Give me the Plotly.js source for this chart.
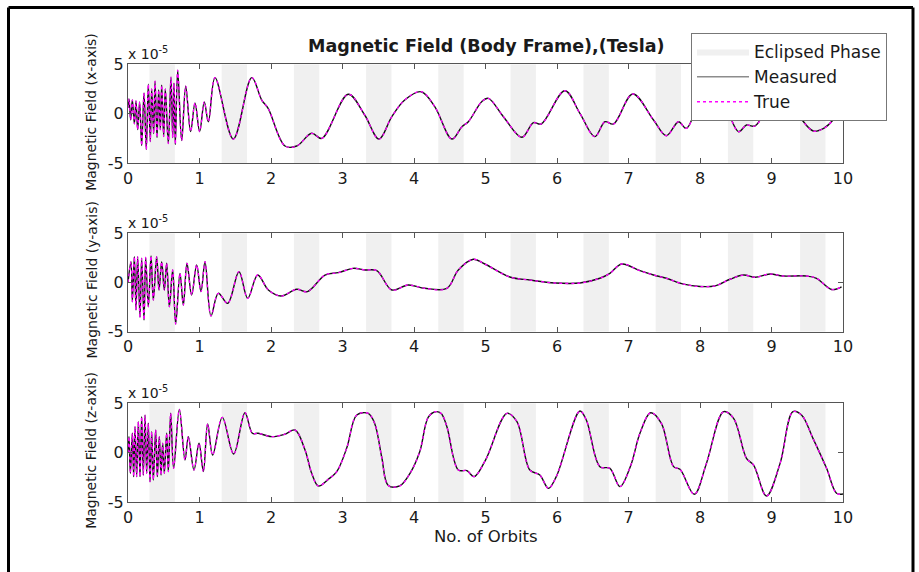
<!DOCTYPE html>
<html>
<head>
<meta charset="utf-8">
<script src="https://cdn.plot.ly/plotly-3.0.1.min.js"></script>
<style>html,body{margin:0;padding:0;background:#fff;}#chart{width:919px;height:572px;}</style>
</head>
<body>
<div id="chart"></div>
<script>
// ---- data (values in units of 1e-5 Tesla) ----
const bxOrbit = [0.000,0.014,0.037,0.061,0.089,0.112,0.135,0.163,0.191,0.224,0.256,0.284,0.312,0.331,0.359,0.378,0.406,0.429,0.452,0.471,0.499,0.522,0.564,0.601,0.625,0.643,0.662,0.695,0.751,0.807,0.876,0.937,1.002,1.067,1.124,1.217,1.473,1.730,1.87,1.96,2.196,2.36,2.569,2.71,3.08,3.31,3.51,3.69,3.87,4.10,4.29,4.53,4.67,4.76,4.95,5.04,5.25,5.51,5.67,5.78,6.11,6.32,6.53,6.67,6.79,7.06,7.35,7.53,7.70,7.81,8.10,8.37,8.54,8.65,8.77,9.13,9.40,9.585,9.73,9.86,10.0];
const bxValue = [0.6,1.5,-0.6,1.4,-1.0,1.3,-1.6,1.2,-3.2,2.1,-3.6,3.0,-2.8,2.5,-2.0,3.3,-2.4,2.4,-1.6,2.9,-2.3,2.5,-3.0,3.7,-2.4,3.1,-3.1,4.4,-2.7,2.8,-1.8,1.1,-1.8,1.2,-0.8,3.65,-2.55,3.65,1.39,0.55,-3.25,-3.25,-1.97,-2.48,1.97,-0.12,-2.55,-0.29,1.39,2.23,0.72,-2.55,-1.30,-0.8,1.25,1.56,-0.29,-2.37,-0.90,-1.03,2.33,0.05,-2.31,-0.80,-1.03,2.0,-0.63,-2.21,-0.80,-1.47,2.6,0.39,-1.81,-1.13,-1.23,2.5,-0.36,-1.74,-1.47,-0.63,1.1];

const byOrbit = [0.000,0.042,0.061,0.089,0.112,0.135,0.168,0.191,0.224,0.247,0.284,0.322,0.354,0.401,0.434,0.471,0.508,0.541,0.578,0.625,0.667,0.727,0.774,0.825,0.890,0.960,1.021,1.077,1.161,1.263,1.394,1.552,1.674,1.814,1.963,2.14,2.36,2.51,2.755,2.94,3.15,3.31,3.48,3.69,3.92,4.15,4.46,4.62,4.83,4.99,5.34,5.62,5.97,6.32,6.60,6.74,6.905,7.16,7.35,7.53,7.77,8.0,8.21,8.42,8.61,8.77,8.98,9.16,9.49,9.63,9.84,9.98];
const byValue = [0.0,2.11,-1.95,2.62,-2.79,2.62,-3.54,2.46,-3.81,2.55,-2.46,2.69,-1.78,2.62,-0.76,2.11,-0.76,1.95,-2.46,1.27,-4.22,0.93,-2.29,1.95,-1.27,1.78,-0.93,2.11,-3.40,-1.10,-2.12,1.10,-1.61,0.76,-0.76,-1.37,-0.69,-0.93,0.76,1.0,1.44,1.27,1.2,-0.76,-0.25,-0.59,-0.59,1.27,2.36,1.88,0.56,0.25,-0.05,-0.05,0.43,0.93,1.88,1.2,0.76,0.43,-0.17,-0.41,-0.34,0.33,0.76,0.53,0.86,0.66,0.66,0.43,-0.71,-0.44];

const bzOrbit = [0.000,0.014,0.033,0.061,0.079,0.098,0.121,0.145,0.168,0.191,0.214,0.238,0.261,0.284,0.308,0.331,0.354,0.387,0.410,0.438,0.462,0.485,0.508,0.541,0.564,0.597,0.638,0.718,0.797,0.844,0.923,0.993,1.054,1.114,1.184,1.319,1.478,1.636,1.74,1.82,2.01,2.19,2.336,2.476,2.569,2.662,2.80,2.92,3.06,3.20,3.36,3.45,3.55,3.64,3.80,3.95,4.08,4.20,4.30,4.38,4.46,4.62,4.74,4.84,5.00,5.30,5.44,5.62,5.76,5.88,5.99,6.32,6.41,6.60,6.74,6.88,7.03,7.16,7.31,7.46,7.63,7.72,7.92,8.09,8.33,8.47,8.65,8.75,8.93,9.12,9.30,9.42,9.58,9.77,9.91,10.0];
const bzValue = [0.0,1.63,-2.07,1.97,-2.41,2.64,-2.41,3.14,-2.41,3.65,-2.24,3.81,-2.07,2.98,-2.92,2.13,-2.75,2.30,-2.41,1.63,-2.24,0.96,-2.07,1.97,-1.9,3.99,-1.57,4.39,-0.73,1.63,-1.74,0.96,-1.9,2.91,-0.22,3.58,-0.12,4.05,1.97,1.97,1.63,1.87,2.30,0.29,-2.07,-3.35,-2.68,-1.9,0.5,3.82,3.98,2.97,-0.5,-3.3,-3.35,-2.0,0.1,3.6,4.15,3.98,2.64,-1.74,-1.80,-2.41,-0.73,3.98,3.14,-1.74,-2.24,-3.59,-2.41,4.22,3.31,-1.40,-1.57,-3.42,-1.30,1.97,4.05,2.97,-1.40,-1.67,-4.19,-1.07,4.15,3.48,-0.56,-1.24,-4.36,-1.07,4.15,3.82,1.46,-1.57,-4.09,-4.16];

const eclipseStart = [0.30,1.31,2.32,3.33,4.34,5.35,6.37,7.38,8.39,9.40];
const eclipseWidth = 0.355;
const yLimits = [-5, 5];
const xTicks = [0,1,2,3,4,5,6,7,8,9,10];
const yTicks = [-5,0,5];
const yTickText = ['-5','0','5'];
const panelTitles = ['Magnetic Field (x-axis)','Magnetic Field (y-axis)','Magnetic Field (z-axis)'];

// ---- layout helpers ----
const W = 919, H = 572;
const px = v => v / W;
const py = v => 1 - v / H;
const FONT = '"DejaVu Sans", Verdana, sans-serif';
const TXT = '#1a1a1a';
const panels = [
  {top: 64.3, bottom: 163.3, ox: bxOrbit, oy: bxValue},
  {top: 233.3, bottom: 331.7, ox: byOrbit, oy: byValue},
  {top: 403.3, bottom: 502.3, ox: bzOrbit, oy: bzValue}
];

function bandXY() {
  const x = [], y = [];
  eclipseStart.forEach(s => {
    x.push(s, s + eclipseWidth, s + eclipseWidth, s, s, null);
    y.push(yLimits[0], yLimits[0], yLimits[1], yLimits[1], yLimits[0], null);
  });
  return {x, y};
}

const data = [];
const layout = {
  width: W, height: H,
  margin: {l: 0, r: 0, t: 0, b: 0},
  paper_bgcolor: '#fff', plot_bgcolor: '#fff',
  font: {family: FONT, size: 16, color: TXT},
  showlegend: true,
  legend: {
    x: px(691), y: py(33), xanchor: 'left', yanchor: 'top',
    bgcolor: '#fff', bordercolor: '#777', borderwidth: 1,
    font: {family: FONT, size: 17, color: TXT},
    tracegroupgap: 0, itemwidth: 52
  },
  annotations: [],
  shapes: []
};

panels.forEach((p, i) => {
  const sfx = i === 0 ? '' : String(i + 1);
  const xa = 'x' + sfx, ya = 'y' + sfx;
  const b = bandXY();
  data.push({
    type: 'scatter', mode: 'lines', x: b.x, y: b.y, xaxis: xa, yaxis: ya,
    fill: 'toself', fillcolor: '#f0f0f0', line: {width: 0, color: '#f0f0f0'},
    name: 'Eclipsed Phase', showlegend: i === 0, legendrank: 1, hoverinfo: 'skip'
  });
  data.push({
    type: 'scatter', mode: 'lines', x: p.ox, y: p.oy, xaxis: xa, yaxis: ya,
    line: {color: '#111', width: 1.4, shape: 'spline', smoothing: 1},
    name: 'Measured', showlegend: false
  });
  data.push({
    type: 'scatter', mode: 'lines', x: p.ox, y: p.oy, xaxis: xa, yaxis: ya,
    line: {color: '#ff00ff', width: 1.3, dash: 'dot', shape: 'spline', smoothing: 1},
    name: 'True', showlegend: i === 0, legendrank: 3
  });
  layout['xaxis' + sfx] = {
    domain: [px(128), px(843)], anchor: ya, range: [0, 10],
    tickvals: xTicks, ticks: 'inside', ticklen: 5, tickcolor: '#555', tickwidth: 1,
    showline: true, linecolor: '#555', linewidth: 1, mirror: 'ticks',
    showgrid: false, zeroline: false,
    tickfont: {family: FONT, size: 16, color: TXT}
  };
  layout['yaxis' + sfx] = {
    domain: [py(p.bottom), py(p.top)], anchor: xa, range: yLimits,
    tickvals: yTicks, ticktext: yTickText, ticks: 'inside', ticklen: 5, tickcolor: '#555', tickwidth: 1,
    showline: true, linecolor: '#555', linewidth: 1, mirror: 'ticks',
    showgrid: false, zeroline: false,
    tickfont: {family: FONT, size: 16, color: TXT}
  };
  layout.annotations.push({
    xref: 'paper', yref: 'paper', x: px(91), y: py((p.top + p.bottom) / 2 - 2),
    text: panelTitles[i], textangle: -90, showarrow: false,
    xanchor: 'center', yanchor: 'middle',
    font: {family: FONT, size: 14, color: TXT}
  });
  layout.annotations.push({
    xref: 'paper', yref: 'paper', x: px(126), y: py(p.top - 11),
    text: 'x 10<sup>-5</sup>', showarrow: false,
    xanchor: 'left', yanchor: 'middle',
    font: {family: FONT, size: 14, color: TXT}
  });
});

// legend proxy for the measured line
data.push({
  type: 'scatter', mode: 'lines', x: [null], y: [null],
  line: {color: '#8c8c8c', width: 1.5}, name: 'Measured', legendrank: 2, hoverinfo: 'skip'
});

layout.annotations.push({
  xref: 'paper', yref: 'paper', x: px(485.5), y: py(46),
  text: '<b>Magnetic Field (Body Frame),(Tesla)</b>', showarrow: false,
  xanchor: 'center', yanchor: 'middle',
  font: {family: FONT, size: 17.5, color: TXT}
});
layout.annotations.push({
  xref: 'paper', yref: 'paper', x: px(485.5), y: py(536),
  text: 'No. of Orbits', showarrow: false,
  xanchor: 'center', yanchor: 'middle',
  font: {family: FONT, size: 16.5, color: TXT}
});

// outer figure frame
const frame = {type: 'line', xref: 'paper', yref: 'paper', line: {color: '#000', width: 3}};
layout.shapes.push(Object.assign({}, frame, {x0: px(8.5), x1: px(8.5), y0: py(7.5), y1: 0}));
layout.shapes.push(Object.assign({}, frame, {x0: px(8.5), x1: px(913), y0: py(7.5), y1: py(7.5)}));
layout.shapes.push(Object.assign({}, frame, {x0: px(913), x1: px(913), y0: py(7.5), y1: 0}));

Plotly.newPlot('chart', data, layout, {staticPlot: true, displayModeBar: false});
</script>
</body>
</html>
